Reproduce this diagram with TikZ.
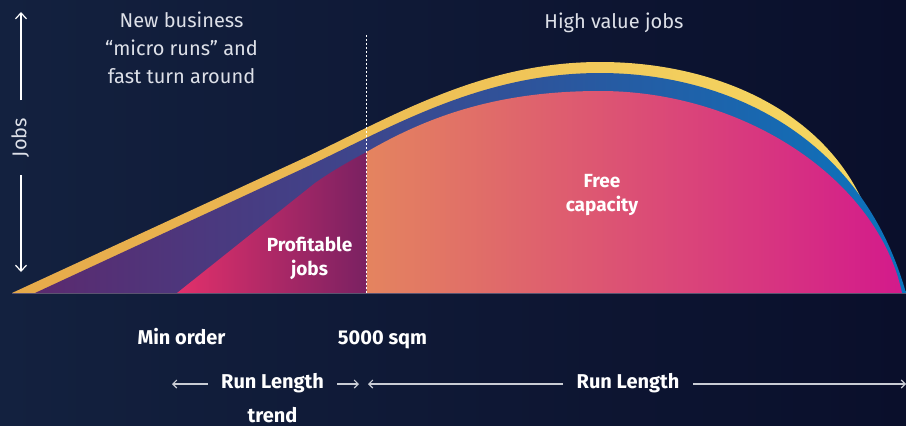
\documentclass[tikz,border=0pt]{standalone}
\usepackage{fontspec}
\setmainfont{Fira Sans}
\usetikzlibrary{arrows.meta}
\definecolor{bgL}{HTML}{13213F}
\definecolor{bgR}{HTML}{0A0F2B}
\definecolor{yelL}{HTML}{E6A94A}
\definecolor{yelR}{HTML}{F6D862}
\definecolor{bluL}{HTML}{5B2A6F}
\definecolor{bluM}{HTML}{3A468E}
\definecolor{bluR}{HTML}{0B74BD}
\definecolor{pkL}{HTML}{E2306B}
\definecolor{pkR}{HTML}{7A2162}
\definecolor{orL}{HTML}{E4845F}
\definecolor{orM}{HTML}{D9507A}
\definecolor{orR}{HTML}{D31A8B}
\definecolor{toptext}{HTML}{DDE0E8}
\definecolor{arrgrey}{HTML}{C9CCD4}
\definecolor{basecol}{HTML}{5A5470}
\tikzset{
  toplbl/.style={inner sep=0pt, anchor=base, text=toptext, font=\fontsize{20}{28}\selectfont, align=center},
  innerlbl/.style={inner sep=0pt, anchor=base, text=white, font=\bfseries\fontsize{19}{23.5}\selectfont, align=center},
  botlbl/.style={inner sep=0pt, anchor=base, text=white, font=\bfseries\fontsize{20}{34}\selectfont, align=center},
  axisarrow/.style={white, line width=1.2pt, -{Straight Barb[length=6pt,width=11pt,line width=1.2pt]}},
  runarrow/.style={arrgrey, line width=1.2pt, -{Straight Barb[length=4pt,width=8pt,line width=1.1pt]}},
  dotline/.style={white, line width=1.3pt, dash pattern=on 2pt off 2pt}
}
\begin{document}
\begin{tikzpicture}[x=1pt,y=-1pt]
\useasboundingbox (0,0) rectangle (906,426);
\shade[left color=bgL, right color=bgR] (0,0) rectangle (906,426);

% yellow outer band (tapers into the blue band on the right)
\shade[left color=yelL, right color=yelR]
  (12,293) -- (300,160) .. controls (390,118) and (480,62) .. (600,62)
  .. controls (715,62) and (820,110) .. (862,200) -- (862,293) -- cycle;
% blue / purple band
\shade[left color=bluL, middle color=bluM, right color=bluR]
  (35,293) -- (300,170) .. controls (390,128) and (480,73) .. (600,73)
  .. controls (720,73) and (860,130) .. (906,293) -- cycle;
% profitable jobs region
\shade[left color=pkL, right color=pkR]
  (177,293) -- (315,183) .. controls (335,169) and (352,160) .. (366.5,152)
  -- (366.5,293) -- cycle;
% free capacity region
\shade[left color=orL, middle color=orM, right color=orR]
  (366.5,152) .. controls (430,115) and (500,91) .. (600,91)
  .. controls (745,91) and (878,180) .. (902,293) -- (366.5,293) -- cycle;

% baseline
\coordinate (b0) at (12,293.8);
\coordinate (b1) at (906,293.8);
\draw[basecol, line width=1pt] (b0) -- (b1);

% dotted divider
\coordinate (d0) at (366.5,35);
\coordinate (d1) at (366.5,293);
\draw[dotline] (d0) -- (d1);

% Jobs axis
\node[inner sep=0pt, anchor=base, rotate=90, text=toptext, font=\fontsize{20}{24}\selectfont] (jobs) at (26.5,137.5) {Jobs};
\coordinate (ua) at (21,100);
\coordinate (ub) at (21,12);
\coordinate (da) at (21,175);
\coordinate (db) at (21,272);
\draw[axisarrow] (ua) -- (ub);
\draw[axisarrow] (da) -- (db);

% top texts (anchor=base refers to the last line)
\node[toplbl] (newb) at (181.5,83) {New business\\“micro runs” and\\fast turn around};
\node[toplbl] (hv) at (614,28) {High value jobs};

% inner labels
\node[innerlbl] (prof) at (309.5,275) {Profitable\\jobs};
\node[innerlbl] (free) at (602,211) {Free\\capacity};

% bottom labels
\node[botlbl] (minord) at (181.5,344) {Min order};
\node[botlbl] (sqm) at (382.5,344) {5000 sqm};
\node[botlbl] (rl1) at (272.5,422) {Run Length\\trend};
\node[botlbl] (rl2) at (628,388) {Run Length};

% run length arrows
\coordinate (r1a) at (208,384);
\coordinate (r1b) at (172,384);
\coordinate (r2a) at (337,384);
\coordinate (r2b) at (359,384);
\coordinate (r3a) at (563,384);
\coordinate (r3b) at (368,384);
\coordinate (r4a) at (693,384);
\coordinate (r4b) at (906,384);
\draw[runarrow] (r1a) -- (r1b);
\draw[runarrow] (r2a) -- (r2b);
\draw[runarrow] (r3a) -- (r3b);
\draw[runarrow] (r4a) -- (r4b);
\end{tikzpicture}
\end{document}
